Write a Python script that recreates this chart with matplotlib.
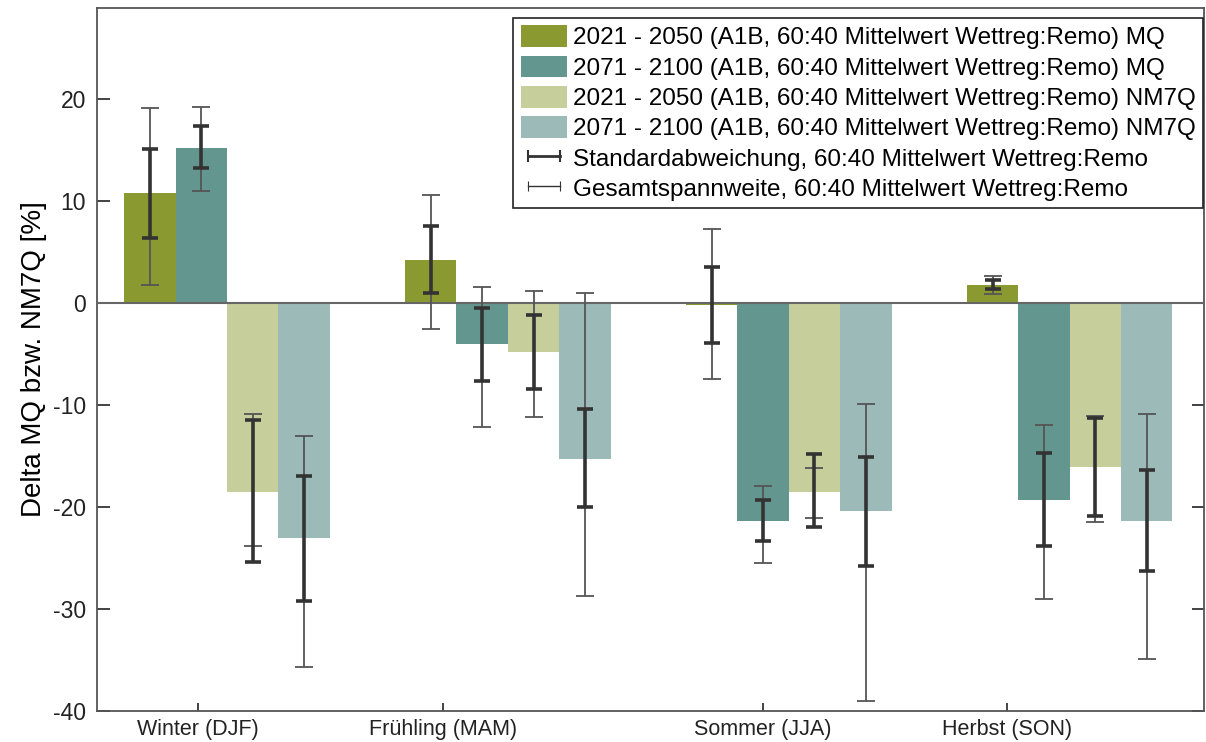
import matplotlib
matplotlib.use("Agg")
import matplotlib.pyplot as plt
import numpy as np
from matplotlib.lines import Line2D

plt.rcParams['font.family'] = ['Liberation Sans', 'DejaVu Sans']
plt.rcParams['axes.unicode_minus'] = False

# Jahreszeiten
seasons = ['Winter (DJF)', 'Frühling (MAM)', 'Sommer (JJA)', 'Herbst (SON)']

series_labels = [
    '2021 - 2050 (A1B, 60:40 Mittelwert Wettreg:Remo) MQ',
    '2071 - 2100 (A1B, 60:40 Mittelwert Wettreg:Remo) MQ',
    '2021 - 2050 (A1B, 60:40 Mittelwert Wettreg:Remo) NM7Q',
    '2071 - 2100 (A1B, 60:40 Mittelwert Wettreg:Remo) NM7Q',
]
sd_label = 'Standardabweichung, 60:40 Mittelwert Wettreg:Remo'
range_label = 'Gesamtspannweite, 60:40 Mittelwert Wettreg:Remo'

# Balkenwerte (Delta in %)
mq_2021 = [10.8, 4.2, -0.2, 1.8]
mq_2071 = [15.2, -4.0, -21.4, -19.3]
nm7q_2021 = [-18.5, -4.8, -18.5, -16.1]
nm7q_2071 = [-23.1, -15.3, -20.4, -21.4]

# Standardabweichung: untere / obere Grenze
mq_2021_sd_lo = [6.4, 1.0, -3.9, 1.4]
mq_2021_sd_hi = [15.1, 7.5, 3.5, 2.2]
mq_2071_sd_lo = [13.2, -7.7, -23.3, -23.8]
mq_2071_sd_hi = [17.3, -0.5, -19.3, -14.7]
nm7q_2021_sd_lo = [-25.4, -8.4, -22.0, -20.9]
nm7q_2021_sd_hi = [-11.5, -1.2, -14.8, -11.3]
nm7q_2071_sd_lo = [-29.2, -20.0, -25.8, -26.3]
nm7q_2071_sd_hi = [-17.0, -10.4, -15.1, -16.4]

# Gesamtspannweite: untere / obere Grenze
mq_2021_rng_lo = [1.8, -2.6, -7.5, 0.9]
mq_2021_rng_hi = [19.1, 10.6, 7.2, 2.6]
mq_2071_rng_lo = [11.0, -12.2, -25.5, -29.0]
mq_2071_rng_hi = [19.2, 1.6, -18.0, -12.0]
nm7q_2021_rng_lo = [-23.8, -11.2, -21.1, -21.5]
nm7q_2021_rng_hi = [-10.9, 1.2, -16.2, -11.1]
nm7q_2071_rng_lo = [-35.7, -28.7, -39.0, -34.9]
nm7q_2071_rng_hi = [-13.1, 1.0, -9.9, -10.9]

colors = ['#8a9a30', '#63968e', '#c6cf9b', '#9cbab8']

values = [mq_2021, mq_2071, nm7q_2021, nm7q_2071]
sd = [(mq_2021_sd_lo, mq_2021_sd_hi), (mq_2071_sd_lo, mq_2071_sd_hi),
      (nm7q_2021_sd_lo, nm7q_2021_sd_hi), (nm7q_2071_sd_lo, nm7q_2071_sd_hi)]
rng = [(mq_2021_rng_lo, mq_2021_rng_hi), (mq_2071_rng_lo, mq_2071_rng_hi),
       (nm7q_2021_rng_lo, nm7q_2021_rng_hi), (nm7q_2071_rng_lo, nm7q_2071_rng_hi)]

fig = plt.figure(figsize=(12.06, 7.42), dpi=100)
ax = fig.add_axes([0.0804, 0.042, 0.9176, 0.947])

x = np.arange(1, len(seasons) + 1)
width = 0.183
offsets = (np.arange(4) - 1.5) * width

handles = []
for i in range(4):
    b = ax.bar(x + offsets[i], values[i], width, color=colors[i],
               label=series_labels[i], zorder=2)
    handles.append(b)

ax.axhline(0, color='#666666', lw=1.5, zorder=3)

for i in range(4):
    xs = x + offsets[i]
    lo, hi = np.array(rng[i][0]), np.array(rng[i][1])
    ax.errorbar(xs, (lo + hi) / 2, yerr=(hi - lo) / 2, fmt='none',
                ecolor='#555555', elinewidth=1.3, capsize=6.5, capthick=1.3, zorder=4)
    lo, hi = np.array(sd[i][0]), np.array(sd[i][1])
    ax.errorbar(xs, (lo + hi) / 2, yerr=(hi - lo) / 2, fmt='none',
                ecolor='#333333', elinewidth=2.6, capsize=6, capthick=2.6, zorder=5)

ax.set_xlim(0.537, 4.477)
ax.set_ylim(-40, 28.9)
ax.set_yticks([-40, -30, -20, -10, 0, 10, 20])
# Beschriftungen sitzen im Original nicht mittig unter den Gruppen
tick_pos = [0.897, 1.769, 2.907, 3.776]
ax.set_xticks(tick_pos)
ax.set_xticklabels(seasons)
ax.tick_params(axis='both', direction='in', labelsize=15.5, colors='#222222')
ax.tick_params(axis='y', length=9, width=1.2, right=True, pad=8, labelsize=16.5)
ax.tick_params(axis='x', length=6, width=1.2, pad=6)
for s in ax.spines.values():
    s.set_color('#555555')
    s.set_linewidth(1.3)
ax.set_ylabel('Delta MQ bzw. NM7Q [%]', fontsize=20, labelpad=4)

sd_handle = Line2D([0], [0], color='#333333', lw=2.0, marker='|',
                   markersize=8, markeredgewidth=1.5)
rng_handle = Line2D([0], [0], color='#333333', lw=1.0, marker='|',
                    markersize=7, markeredgewidth=0.8)
leg = ax.legend(handles + [sd_handle, rng_handle],
                series_labels + [sd_label, range_label],
                loc='upper right', bbox_to_anchor=(0.9995, 0.986),
                borderaxespad=0, fontsize=17.5, numpoints=2,
                handlelength=1.9, handleheight=1.0, handletextpad=0.25,
                labelspacing=0.25, borderpad=0.3,
                fancybox=False, framealpha=1, edgecolor='#222222')
leg.get_frame().set_linewidth(1.2)

fig.savefig('out.png', dpi=100)
